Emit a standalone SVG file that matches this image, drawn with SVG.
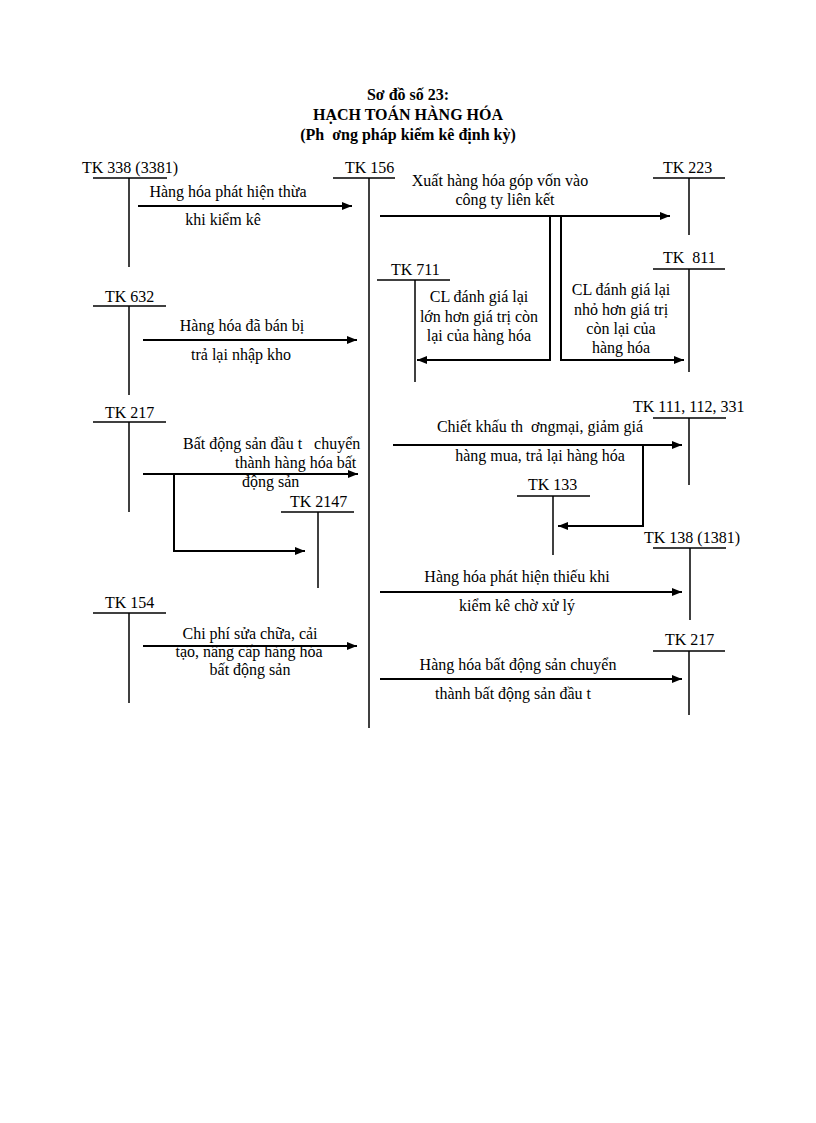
<svg xmlns="http://www.w3.org/2000/svg" width="816" height="1123" viewBox="0 0 816 1123">
<defs>
<marker id="ah" markerWidth="10" markerHeight="8" refX="10" refY="4" orient="auto" markerUnits="userSpaceOnUse">
<path d="M0,0 L10,4 L0,8 Z" fill="#000"/>
</marker>
<style>
text{font-family:"Liberation Serif","Times New Roman",serif;font-size:16px;fill:#000;white-space:pre}
.t{font-weight:bold;text-anchor:middle}
.c{text-anchor:middle}
.tk line{stroke:#000;stroke-width:1.5}
.arr{fill:none;stroke:#000;stroke-width:2;marker-end:url(#ah)}
</style>
</defs>
<rect width="816" height="1123" fill="#fff"/>
<g id="title">
<text class="t" x="408" y="100">Sơ đồ số 23:</text>
<text class="t" x="408" y="120">HẠCH TOÁN HÀNG HÓA</text>
<text class="t" x="408" y="140">(Ph  ơng pháp kiểm kê định kỳ)</text>
</g>
<g id="tk3381" class="tk"><text x="82" y="173">TK 338 (3381)</text><line x1="93" y1="178" x2="167" y2="178"/><line x1="129" y1="178" x2="129" y2="267"/></g>
<g id="tk156" class="tk"><text x="345" y="173">TK 156</text><line x1="333" y1="178" x2="395" y2="178"/><line x1="369" y1="178" x2="369" y2="728"/></g>
<g id="tk223" class="tk"><text x="663" y="173">TK 223</text><line x1="653" y1="178" x2="725" y2="178"/><line x1="689" y1="178" x2="689" y2="235"/></g>
<g id="tk811" class="tk"><text x="663" y="263">TK  811</text><line x1="653" y1="269" x2="725" y2="269"/><line x1="689" y1="269" x2="689" y2="372"/></g>
<g id="tk711" class="tk"><text x="391" y="275">TK 711</text><line x1="377" y1="280" x2="450" y2="280"/><line x1="415" y1="280" x2="415" y2="382"/></g>
<g id="tk632" class="tk"><text x="105" y="302">TK 632</text><line x1="93" y1="306" x2="166" y2="306"/><line x1="129" y1="306" x2="129" y2="395"/></g>
<g id="tk217a" class="tk"><text x="105" y="418">TK 217</text><line x1="93" y1="422" x2="166" y2="422"/><line x1="129" y1="422" x2="129" y2="512"/></g>
<g id="tk2147" class="tk"><text x="290" y="507">TK 2147</text><line x1="281" y1="512" x2="354" y2="512"/><line x1="318" y1="512" x2="318" y2="588"/></g>
<g id="tk111" class="tk"><text x="633" y="412">TK 111, 112, 331</text><line x1="653" y1="418" x2="726" y2="418"/><line x1="689" y1="418" x2="689" y2="485"/></g>
<g id="tk133" class="tk"><text x="528" y="490">TK 133</text><line x1="517" y1="496" x2="590" y2="496"/><line x1="553" y1="496" x2="553" y2="555"/></g>
<g id="tk1381" class="tk"><text x="644" y="543">TK 138 (1381)</text><line x1="653" y1="548" x2="726" y2="548"/><line x1="690" y1="548" x2="690" y2="620"/></g>
<g id="tk217b" class="tk"><text x="665" y="645">TK 217</text><line x1="653" y1="651" x2="725" y2="651"/><line x1="689" y1="651" x2="689" y2="715"/></g>
<g id="tk154" class="tk"><text x="105" y="608">TK 154</text><line x1="93" y1="613" x2="166" y2="613"/><line x1="129" y1="613" x2="129" y2="703"/></g>
<g id="connectors">
<path class="arr" d="M138,206 H352"/>
<path class="arr" d="M380,216 H670"/>
<path class="arr" d="M550,216 V360 H417"/>
<path class="arr" d="M561,216 V360 H684"/>
<path class="arr" d="M143,340 H357"/>
<path class="arr" d="M143,474 H358"/>
<path class="arr" d="M174,474 V551 H305"/>
<path class="arr" d="M393,445 H682"/>
<path class="arr" d="M643,445 V526 H558"/>
<path class="arr" d="M380,592 H682"/>
<path class="arr" d="M380,679 H682"/>
<path class="arr" d="M143,646 H357"/>
</g>
<g id="labels">
<text class="c" x="228" y="197">Hàng hóa phát hiện thừa</text>
<text class="c" x="223" y="225">khi kiểm kê</text>
<text class="c" x="500" y="186">Xuất hàng hóa góp vốn vào</text>
<text class="c" x="505" y="205">công ty liên kết</text>
<text class="c" x="479" y="302">CL đánh giá lại</text>
<text class="c" x="479" y="322">lớn hơn giá trị còn</text>
<text class="c" x="479" y="341">lại của hàng hóa</text>
<text class="c" x="621" y="295">CL đánh giá lại</text>
<text class="c" x="621" y="315">nhỏ hơn giá trị</text>
<text class="c" x="621" y="334">còn lại của</text>
<text class="c" x="621" y="353">hàng hóa</text>
<text class="c" x="242" y="331">Hàng hóa đã bán bị</text>
<text class="c" x="241" y="360">trả lại nhập kho</text>
<text x="183" y="449">Bất động sản đầu t   chuyển</text>
<text x="235" y="468">thành hàng hóa bất</text>
<text x="242" y="487">động sản</text>
<text class="c" x="540" y="432">Chiết khấu th  ơngmại, giảm giá</text>
<text class="c" x="540" y="461">hàng mua, trả lại hàng hóa</text>
<text class="c" x="517" y="582">Hàng hóa phát hiện thiếu khi</text>
<text class="c" x="517" y="611">kiểm kê chờ xử lý</text>
<text class="c" x="518" y="670">Hàng hóa bất động sản chuyển</text>
<text class="c" x="513" y="699">thành bất động sản đầu t</text>
<text class="c" x="250" y="639">Chi phí sửa chữa, cải</text>
<text class="c" x="249" y="657">tạo, nâng cấp hàng hóa</text>
<text class="c" x="250" y="675">bất động sản</text>
</g>
</svg>
